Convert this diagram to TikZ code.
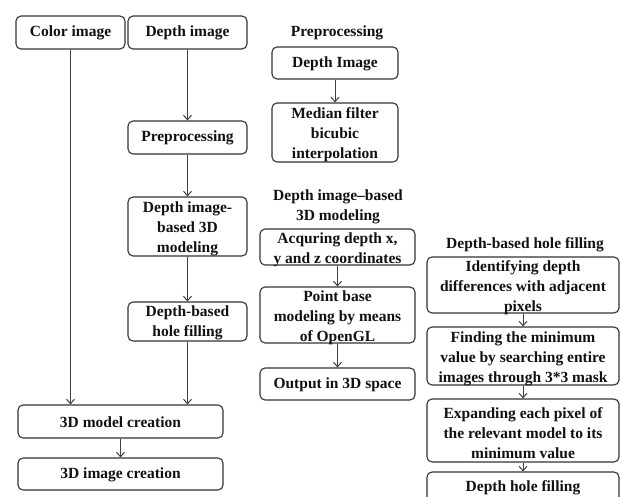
\documentclass[tikz,border=0pt]{standalone}
\usepackage{fontspec}
\setmainfont{Liberation Serif}
\usetikzlibrary{arrows.meta}
\definecolor{boxc}{HTML}{333333}
\definecolor{linec}{HTML}{404040}
\definecolor{txtc}{HTML}{111111}
\begin{document}
\begin{tikzpicture}[x=1pt,y=-1pt,
  box/.style={draw=boxc, line width=1.1pt, rounded corners=5pt, inner sep=0pt},
  lbl/.style={align=center, inner sep=0pt, text=txtc, font=\fontsize{15.5}{20}\selectfont\bfseries},
  ttl/.style={lbl},
  arr/.style={draw=linec, line width=1pt, -{Straight Barb[length=4.5pt,width=8pt]}}]
\useasboundingbox (0,0) rectangle (621,497);
\clip (0,0) rectangle (621,497);
\fill[white] (0,0) rectangle (621,497);

% column 1
\node[box, minimum width=109pt, minimum height=33pt] (color) at (70.5,32.5) {};
\node[lbl] (colort) at ([yshift=-0.5pt]color.center) {Color image};
\node[box, minimum width=119pt, minimum height=33pt] (depth) at (187.5,32.5) {};
\node[lbl] (deptht) at ([yshift=-0.5pt]depth.center) {Depth image};
\node[box, minimum width=119pt, minimum height=33pt] (prep) at (187.5,137.5) {};
\node[lbl] (prept) at ([yshift=-0.5pt]prep.center) {Preprocessing};
\node[box, minimum width=119pt, minimum height=59pt] (dib) at (187.5,226.5) {};
\node[lbl] (dibt) at ([yshift=-2pt]dib.center) {Depth image-\\based 3D\\modeling};
\node[box, minimum width=119pt, minimum height=39pt] (dbh) at (187.5,321.5) {};
\node[lbl] (dbht) at ([yshift=-1pt]dbh.center) {Depth-based\\hole filling};
\node[box, minimum width=205pt, minimum height=33pt] (model) at (120.5,421.5) {};
\node[lbl] (modelt) at ([yshift=-0.5pt]model.center) {3D model creation};
\node[box, minimum width=205pt, minimum height=32pt] (image) at (120.5,474) {};
\node[lbl] (imaget) at ([yshift=-0.5pt]image.center) {3D image creation};

\draw[arr] (color.south) -- (color.south |- model.north);
\draw[arr] (depth) -- (prep);
\draw[arr] (prep) -- (dib);
\draw[arr] (dib) -- (dbh);
\draw[arr] (dbh.south) -- (dbh.south |- model.north);
\draw[arr] (model) -- (image);

% column 2
\node[ttl] (t1) at (337,33) {Preprocessing};
\node[box, minimum width=126pt, minimum height=32pt] (di) at (335,63) {};
\node[lbl] (dit) at ([yshift=-0.5pt]di.center) {Depth Image};
\node[box, minimum width=126pt, minimum height=59pt] (mf) at (335,132.5) {};
\node[lbl] (mft) at ([yshift=-2pt]mf.center) {Median filter\\bicubic\\interpolation};
\draw[arr] (di) -- (mf);

\node[ttl] (t2) at (338,207) {Depth image–based\\3D modeling};
\node[box, minimum width=155pt, minimum height=36pt] (aq) at (337.5,247) {};
\node[lbl] (aqt) at ([yshift=-3pt]aq.center) {Acquring depth x,\\y and z coordinates};
\node[box, minimum width=155pt, minimum height=56pt] (pb) at (337.5,315) {};
\node[lbl] (pbt) at ([yshift=-3pt]pb.center) {Point base\\modeling by means\\of OpenGL};
\node[box, minimum width=155pt, minimum height=32pt] (out) at (337.5,384) {};
\node[lbl] (outt) at ([yshift=-1pt]out.center) {Output in 3D space};
\draw[arr] (aq) -- (pb);
\draw[arr] (pb) -- (out);

% column 3
\node[ttl] (t3) at (525,245) {Depth-based hole filling};
\node[box, minimum width=192pt, minimum height=56pt] (b1) at (523,285) {};
\node[lbl] (b1t) at ([yshift=-3pt]b1.center) {Identifying depth\\differences with adjacent\\pixels};
\node[box, minimum width=192pt, minimum height=58pt] (b2) at (523,356) {};
\node[lbl] (b2t) at ([yshift=-2.5pt]b2.center) {Finding the minimum\\value by searching entire\\images through 3*3 mask};
\node[box, minimum width=192pt, minimum height=63pt] (b3) at (523,430.5) {};
\node[lbl] (b3t) at ([yshift=-2.5pt]b3.center) {Expanding each pixel of\\the relevant model to its\\minimum value};
\node[box, minimum width=192pt, minimum height=40pt] (b4) at (523,492) {};
\node[lbl] (b4t) at (523,488) {Depth hole filling};
\draw[arr] (b1) -- (b2);
\draw[arr] (b2) -- (b3);
\draw[arr] (b3) -- (b4);
\end{tikzpicture}
\end{document}
